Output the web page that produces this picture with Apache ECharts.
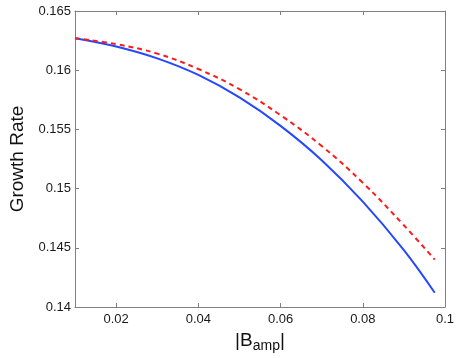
<html>
<head>
    <meta charset="UTF-8">
    <title>Growth Rate vs |B_amp|</title>
    <script src="https://cdn.jsdelivr.net/npm/echarts@6/dist/echarts.min.js"></script>
</head>
<body style="margin:0">
    <div id="container" style="width: 458px;height:358px;"></div>
<script>
    // values
    var bAmp = [0.01, 0.02, 0.03, 0.04, 0.05, 0.06, 0.07, 0.08, 0.09, 0.0975];
    var solidRate = [0.1627, 0.1620, 0.1610, 0.1596, 0.1577, 0.1553, 0.1524, 0.1489, 0.1448, 0.1412];
    var dashedRate = [0.1627, 0.1622, 0.1614, 0.1601, 0.1584, 0.1562, 0.1536, 0.1505, 0.1469, 0.1440];
    var xTicks = [0.02, 0.04, 0.06, 0.08, 0.1];

    function pairs(xs, ys) {
        var out = [];
        for (var i = 0; i < xs.length; i++) {
            out.push([xs[i], ys[i]]);
        }
        return out;
    }
    function fmt(v) {
        return String(+(+v).toFixed(4));
    }

    var mycharts = echarts.init(document.getElementById('container'));
    var font = 'Liberation Sans, Arial, Helvetica, sans-serif';
    var axisGray = '#808080';

    var option = {
        animation: false,
        grid: { left: 58, right: 13, top: 11, bottom: 42 },
        xAxis: [{
            type: 'value', min: 0.01, max: 0.1,
            name: '{b||B}{s|amp}{b||}',
            nameLocation: 'middle', nameGap: 22,
            nameTextStyle: {
                rich: {
                    b: { fontFamily: font, fontSize: 19, color: '#111' },
                    s: { fontFamily: font, fontSize: 14, color: '#111', padding: [10, 0, 0, 0] }
                }
            },
            axisLine: { lineStyle: { color: axisGray, width: 1 } },
            axisTick: { inside: true, length: 4, customValues: xTicks, lineStyle: { color: axisGray } },
            axisLabel: { customValues: xTicks, formatter: fmt, color: '#1a1a1a', fontSize: 13, fontFamily: font, margin: 6 },
            splitLine: { show: false }
        }, {
            type: 'value', min: 0.01, max: 0.1, position: 'top',
            axisLine: { show: true, lineStyle: { color: axisGray, width: 1 } },
            axisTick: { inside: true, length: 4, customValues: xTicks, lineStyle: { color: axisGray } },
            axisLabel: { show: false },
            splitLine: { show: false }
        }],
        yAxis: [{
            type: 'value', min: 0.14, max: 0.165, interval: 0.005,
            name: 'Growth Rate',
            nameLocation: 'middle', nameGap: 48,
            nameTextStyle: { fontFamily: font, fontSize: 19, color: '#111' },
            axisLine: { show: true, lineStyle: { color: axisGray, width: 1 } },
            axisTick: { inside: true, length: 4, lineStyle: { color: axisGray } },
            axisLabel: { formatter: fmt, color: '#1a1a1a', fontSize: 13, fontFamily: font, margin: 4 },
            splitLine: { show: false }
        }, {
            type: 'value', min: 0.14, max: 0.165, interval: 0.005, position: 'right',
            axisLine: { show: true, lineStyle: { color: axisGray, width: 1 } },
            axisTick: { inside: true, length: 4, lineStyle: { color: axisGray } },
            axisLabel: { show: false },
            splitLine: { show: false }
        }],
        series: [{
            type: 'line', name: 'solid',
            data: pairs(bAmp, solidRate),
            smooth: 0.4, showSymbol: false,
            lineStyle: { color: '#2447ff', width: 2 }
        }, {
            type: 'line', name: 'dashed',
            data: pairs(bAmp, dashedRate),
            smooth: 0.4, showSymbol: false,
            lineStyle: { color: '#ff1a1a', width: 2, type: [5, 4] }
        }]
    };
    mycharts.setOption(option);
</script>
</body>
</html>
